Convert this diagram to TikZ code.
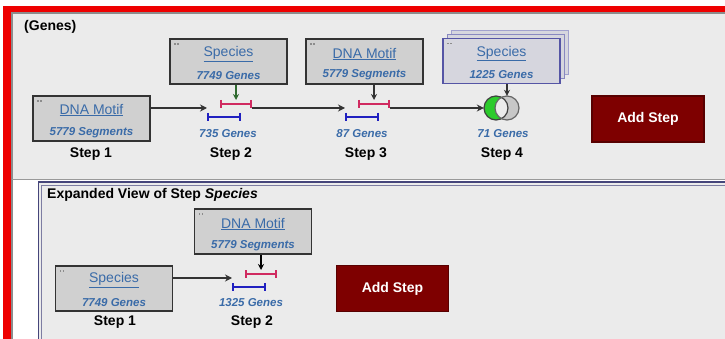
\documentclass[tikz,border=0pt]{standalone}
\usepackage{fontspec}
\setmainfont{Liberation Sans}
\usetikzlibrary{calc,arrows.meta}

\definecolor{panelgray}{HTML}{EBEBEB}
\definecolor{boxgray}{HTML}{D0D0D0}
\definecolor{stackgray}{HTML}{D6D6DE}
\definecolor{linkblue}{HTML}{3A6BA8}
\definecolor{framered}{HTML}{EE0000}
\definecolor{btnred}{HTML}{7E0000}
\definecolor{hubred}{HTML}{D02A60}
\definecolor{hubblue}{HTML}{2020C0}
\definecolor{navyline}{HTML}{45457A}
\definecolor{stackblue}{HTML}{5555A5}
\definecolor{vgreen}{HTML}{2CCB2C}
\definecolor{arrowgreen}{HTML}{2F6A2F}

\tikzset{
  stepbox/.style={draw=black!80, line width=1.8pt, fill=boxgray,
    minimum width=117pt, minimum height=45pt, inner sep=0pt},
  lnk/.style={text=linkblue, inner sep=0pt, font=\fontsize{14}{16}\selectfont},
  cnt/.style={text=linkblue, inner sep=0pt, font=\fontsize{11.5}{13}\selectfont\bfseries\itshape},
  steplbl/.style={inner sep=0pt, font=\fontsize{14}{16}\selectfont\bfseries},
  title/.style={inner sep=0pt, anchor=west, font=\fontsize{14}{16}\selectfont\bfseries},
  addbtn/.style={draw=btnred!70!black, line width=1.2pt, fill=btnred, text=white,
    font=\fontsize{14}{16}\selectfont\bfseries, minimum width=112pt, minimum height=46pt},
  conn/.style={draw=black!80, line width=1.6pt, -{Stealth[length=7pt,width=7pt]}},
  drop/.style={draw=black!80, line width=1.5pt, -{Stealth[length=6pt,width=6pt]}},
  hub/.pic={
    \draw[hubred, line width=2.2pt] (14,-4) -- (44,-4);
    \draw[hubred, line width=1.5pt] (14,-8) -- (14,0) (44,-8) -- (44,0);
    \draw[hubblue, line width=2.2pt] (1,9) -- (33,9);
    \draw[hubblue, line width=1.5pt] (1,5) -- (1,13) (33,5) -- (33,13);
    \coordinate (-in) at (0,0);
    \coordinate (-top) at (29,-8);
    \coordinate (-out) at (45,0);
  }
}

% tiny handle mark in the top-left corner of a step box
\newcommand{\handlemark}[1]{%
  \fill[black!45] ($(#1.north west)+(5,5)$) rectangle +(1.5,1.5);
  \fill[black!45] ($(#1.north west)+(8,5)$) rectangle +(1.5,1.5);}

\begin{document}
\begin{tikzpicture}[x=1pt,y=-1pt]
\useasboundingbox (0,0) rectangle (725,339);
\fill[white] (0,0) rectangle (725,339);

% red outer frame
\fill[framered] (3,6) rectangle (725,12);
\fill[framered] (3,6) rectangle (11,339);

% upper panel: the strategy
\fill[panelgray] (12,12) rectangle (725,179);
\draw[black!45, line width=1.5pt] (12,13) -- (725,13);
\draw[black!45, line width=1.5pt] (12,12) -- (12,339);
\draw[black!40, line width=1pt] (12,179.5) -- (725,179.5);
\node[title] (gtitle) at (24,27) {(Genes)};

% lower panel: expanded view
\fill[panelgray] (38,181) rectangle (725,339);
\draw[navyline, line width=1.6pt] (38.5,339) -- (38.5,182) -- (725,182);
\draw[navyline!70, line width=1pt] (41.5,339) -- (41.5,185.5) -- (725,185.5);
\node[title] (etitle) at (47,195) {Expanded View of Step \textit{Species}};

% ---- step 1
\node[stepbox] (b1) at (91.5,118.5) {};
\handlemark{b1}
\node[lnk] (b1t) at ($(b1.north)+(0,15)$) {\underline{DNA Motif}};
\node[cnt] (b1c) at ($(b1.north)+(0,38)$) {5779 Segments};
\node[steplbl] (l1) at (91,154) {Step 1};

% ---- step 2
\node[stepbox] (s2) at (228.5,61.5) {};
\handlemark{s2}
\node[lnk] (s2t) at ($(s2.north)+(0,16)$) {\underline{Species}};
\node[cnt] (s2c) at ($(s2.north)+(0,37)$) {7749 Genes};
\pic (h2) at (207,108) {hub};
\node[cnt] (c2) at (228,134) {735 Genes};
\node[steplbl] (l2) at (231,154) {Step 2};

% ---- step 3
\node[stepbox] (s3) at (364.5,61.5) {};
\handlemark{s3}
\node[lnk] (s3t) at ($(s3.north)+(0,16)$) {\underline{DNA Motif}};
\node[cnt] (s3c) at ($(s3.north)+(0,37)$) {5779 Segments};
\pic (h3) at (345,108) {hub};
\node[cnt] (c3) at (362,134) {87 Genes};
\node[steplbl] (l3) at (366,154) {Step 3};

% ---- step 4 (stacked input)
\draw[stackblue!55, line width=1pt, fill=stackgray] (451,31) rectangle (568,75);
\draw[stackblue!70, line width=1pt, fill=stackgray] (447,35) rectangle (564,79);
\node[stepbox, draw=stackblue, fill=stackgray] (s4) at (501.5,61) {};
\handlemark{s4}
\node[lnk] (s4t) at ($(s4.north)+(0,16)$) {\underline{Species}};
\node[cnt] (s4c) at ($(s4.north)+(0,37)$) {1225 Genes};
\node[circle, minimum size=24pt, inner sep=0pt] (g4) at (496,108) {};
\node[circle, minimum size=24pt, inner sep=0pt] (w4) at (507,108) {};
\fill[vgreen] (g4.center) circle (12);
\fill[black!22] (w4.center) circle (12);
\begin{scope}
  \clip (g4.center) circle (12);
  \fill[black!8] (w4.center) circle (12);
\end{scope}
\draw[black!75, line width=1.2pt] (g4.center) circle (12);
\draw[black!60, line width=1.2pt] (w4.center) circle (12);
\node[cnt] (c4) at (503,134) {71 Genes};
\node[steplbl] (l4) at (502,154) {Step 4};

\node[addbtn] (add1) at (648,119) {Add Step};

% connectors, upper panel
\draw[conn] (b1.east |- h2-in) -- (h2-in);
\draw[drop, draw=arrowgreen] (s2.south -| h2-top) -- (h2-top);
\draw[conn] (h2-out) -- (h3-in);
\draw[drop] (s3.south -| h3-top) -- (h3-top);
\draw[conn] (h3-out) -- (g4.west);
\draw[drop] (s4.south -| w4.north) -- (w4.north);

% ---- expanded step
\node[stepbox] (eb1) at (114,288.5) {};
\handlemark{eb1}
\node[lnk] (eb1t) at ($(eb1.north)+(0,15)$) {\underline{Species}};
\node[cnt] (eb1c) at ($(eb1.north)+(0,37)$) {7749 Genes};
\node[steplbl] (el1) at (115,322) {Step 1};

\node[stepbox] (eb2) at (253,231.5) {};
\handlemark{eb2}
\node[lnk] (eb2t) at ($(eb2.north)+(0,16)$) {\underline{DNA Motif}};
\node[cnt] (eb2c) at ($(eb2.north)+(0,38)$) {5779 Segments};
\pic (eh) at (232,278) {hub};
\node[cnt] (ec2) at (251,303) {1325 Genes};
\node[steplbl] (el2) at (252,322) {Step 2};

\node[addbtn] (add2) at (392.5,288.5) {Add Step};

\draw[conn] (eb1.east |- eh-in) -- (eh-in);
\draw[drop, draw=black] (eb2.south -| eh-top) -- (eh-top);
\end{tikzpicture}
\end{document}
